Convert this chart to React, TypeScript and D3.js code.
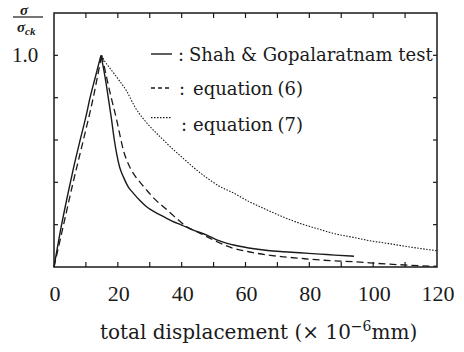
import React from "react";
import * as d3 from "d3";

const W = 464;
const H = 352;

// x: total displacement (×10^-6 mm), y: σ/σck
const testX = [0, 2, 4, 6, 8.2, 10, 11.3, 13, 14.7, 15.5, 16.3, 17.0, 18.0, 18.9, 19.7, 20.6, 21.7, 23.2, 24.9, 27, 29, 31.5, 34.3, 37, 40, 44, 47.9, 51, 56, 61, 67, 72, 77, 83.4, 88, 94];
const testY = [0, 0.17, 0.32, 0.46, 0.6, 0.71, 0.8, 0.9, 1.0, 0.94, 0.87, 0.8, 0.7, 0.6, 0.53, 0.47, 0.427, 0.38, 0.348, 0.313, 0.285, 0.26, 0.238, 0.217, 0.198, 0.172, 0.151, 0.128, 0.105, 0.09, 0.078, 0.072, 0.067, 0.061, 0.056, 0.051];

const eq6X = [0, 3, 6, 9.2, 12.3, 14.9, 16, 17, 18.1, 19.65, 20.7, 21.73, 23.2, 24.86, 27, 29.05, 31.5, 34.27, 37, 38.97, 41.6, 45.8, 51, 56.2, 61, 66.7, 72, 77.1, 83.4, 93.8, 104.3, 112, 120];
const eq6Y = [0, 0.2, 0.4, 0.6, 0.8, 1.0, 0.93, 0.86, 0.79, 0.694, 0.62, 0.552, 0.49, 0.442, 0.4, 0.363, 0.322, 0.285, 0.248, 0.222, 0.19, 0.159, 0.12, 0.088, 0.072, 0.057, 0.048, 0.041, 0.033, 0.025, 0.014, 0.008, 0.003];

const eq7X = [14.9, 16, 18, 20, 22.8, 25.4, 28, 30, 33.8, 37, 40, 44.7, 48, 52, 56.2, 61, 66.7, 72, 77.1, 83.4, 88, 93.8, 99, 104.3, 110, 115, 120];
const eq7Y = [1.0, 0.97, 0.93, 0.89, 0.83, 0.755, 0.7, 0.665, 0.607, 0.56, 0.52, 0.458, 0.42, 0.38, 0.35, 0.31, 0.27, 0.235, 0.206, 0.177, 0.157, 0.14, 0.124, 0.112, 0.098, 0.087, 0.077];

const xTickLabels = [0, 20, 40, 60, 80, 100, 120];
const xMinorTicks = [10, 20, 30, 40, 50, 60, 70, 80, 90, 100, 110];
const yTicks = [0.2, 0.4, 0.6, 0.8, 1.0];

const legendLabels = ["Shah & Gopalaratnam test", "equation", "equation"];
const legendNums = ["", "(6)", "(7)"];

const x = d3.scaleLinear().domain([0, 120]).range([54, 437]);
const y = d3.scaleLinear().domain([0, 1.2]).range([267, 13]);

const riseLine = d3
  .line<[number, number]>()
  .x((d) => x(d[0]))
  .y((d) => y(d[1]))
  .curve(d3.curveMonotoneX);

const fallLine = d3
  .line<[number, number]>()
  .x((d) => x(d[0]))
  .y((d) => y(d[1]))
  .curve(d3.curveMonotoneX);

const zip = (a: number[], b: number[]) => a.map((v, i) => [v, b[i]] as [number, number]);

// draw rising and falling branches separately so the peak stays sharp
function peakPath(xs: number[], ys: number[]) {
  const pts = zip(xs, ys);
  const k = d3.maxIndex(ys);
  const rise = pts.slice(0, k + 1);
  const fall = pts.slice(k);
  return (rise.length > 1 ? riseLine(rise) || "" : "") + (fallLine(fall) || "");
}

const INK = "#1a1a1a";
const NUMFONT = "Liberation Serif";
const TXTFONT = "DejaVu Serif";

export default function App() {
  const x0 = x(0), x1 = x(120), y0 = y(0), y1 = y(1.2);
  const legendStyles = [
    { dash: undefined, w: 1.4 },
    { dash: "4,3", w: 1.3 },
    { dash: "1.5,1.5", w: 1.2 },
  ];
  const legendY = [54, 88, 117.7];
  const legendBase = [61, 95, 131];
  const colonX = [178, 179, 181];
  const textX = [189, 193, 193];
  return (
    <svg
      width={W}
      height={H}
      style={{ position: "absolute", left: 0, top: 0, background: "#fff" }}
    >
      <rect x={0} y={0} width={W} height={H} fill="#fff" />
      {/* curves */}
      <path d={peakPath(testX, testY)} fill="none" stroke={INK} strokeWidth={1.4} />
      <path d={peakPath(eq6X, eq6Y)} fill="none" stroke={INK} strokeWidth={1.3} strokeDasharray="7,4" />
      <path d={peakPath(eq7X, eq7Y)} fill="none" stroke={INK} strokeWidth={1.1} strokeDasharray="1.5,1.5" />

      {/* frame */}
      <rect x={x0} y={y1} width={x1 - x0} height={y0 - y1} fill="none" stroke={INK} strokeWidth={1.5} />
      {xMinorTicks.map((t) => (
        <g key={"xt" + t}>
          <line x1={x(t)} x2={x(t)} y1={y0} y2={y0 - 5} stroke={INK} strokeWidth={1.2} />
          <line x1={x(t)} x2={x(t)} y1={y1} y2={y1 + 5} stroke={INK} strokeWidth={1.2} />
        </g>
      ))}
      {yTicks.map((t) => (
        <g key={"yt" + t}>
          <line x1={x0} x2={x0 + 4} y1={y(t)} y2={y(t)} stroke={INK} strokeWidth={1.2} />
          <line x1={x1} x2={x1 - 4} y1={y(t)} y2={y(t)} stroke={INK} strokeWidth={1.2} />
        </g>
      ))}

      {/* x tick labels */}
      {xTickLabels.map((t) => (
        <text key={"xl" + t} x={x(t) + 1} y={301} textAnchor="middle" fontFamily={NUMFONT} fontSize={22} fill={INK}>
          {t}
        </text>
      ))}

      {/* y label */}
      <text x={25} y={62} textAnchor="middle" fontFamily={NUMFONT} fontSize={21} fill={INK}>
        1.0
      </text>
      <text x={24} y={15} textAnchor="middle" fontFamily={NUMFONT} fontSize={15} fontStyle="italic" fontWeight="bold" fill={INK}>
        σ
      </text>
      <line x1={13} x2={43} y1={17} y2={17} stroke={INK} strokeWidth={1.2} />
      <text x={17} y={32} fontFamily={NUMFONT} fontSize={15} fontStyle="italic" fontWeight="bold" fill={INK}>
        σ
        <tspan fontSize={11} dy={3}>ck</tspan>
      </text>

      {/* x axis title */}
      <text x={100} y={339} fontFamily={TXTFONT} fontSize={20} fill={INK}>
        total displacement (× 10
        <tspan fontSize={14} dy={-8}>−6</tspan>
        <tspan dy={8}>mm)</tspan>
      </text>

      {/* legend */}
      {legendLabels.map((lab, i) => (
        <g key={"lg" + i}>
          <line
            x1={151}
            x2={172}
            y1={legendY[i]}
            y2={legendY[i]}
            stroke={INK}
            strokeWidth={legendStyles[i].w}
            strokeDasharray={legendStyles[i].dash}
          />
          <text x={colonX[i]} y={legendBase[i]} fontFamily={TXTFONT} fontSize={18} fill={INK}>
            :
          </text>
          <text x={textX[i]} y={legendBase[i]} fontFamily={TXTFONT} fontSize={18} fill={INK}>
            {lab}
          </text>
          {legendNums[i] && (
            <text x={303} y={legendBase[i]} textAnchor="end" fontFamily={TXTFONT} fontSize={18} fill={INK}>
              {legendNums[i]}
            </text>
          )}
        </g>
      ))}
    </svg>
  );
}
